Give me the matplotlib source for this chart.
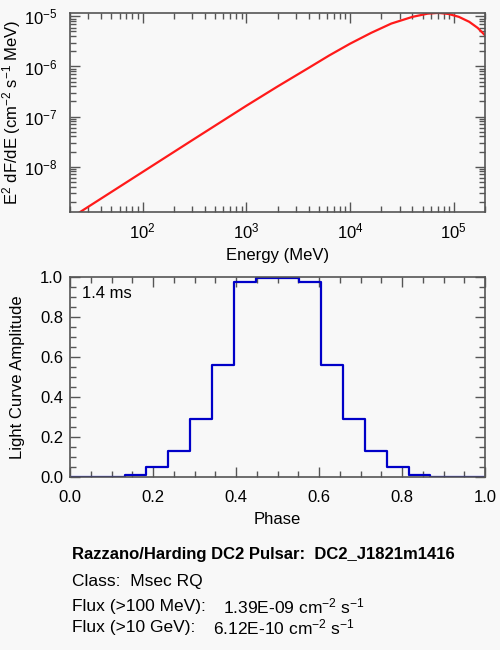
import numpy as np
import matplotlib
matplotlib.use("Agg")
import matplotlib.pyplot as plt
from matplotlib.ticker import LogLocator, MultipleLocator, NullFormatter

plt.rcParams['font.family'] = ['Liberation Sans', 'DejaVu Sans']
plt.rcParams['mathtext.fontset'] = 'custom'
plt.rcParams['mathtext.rm'] = 'Liberation Sans'
plt.rcParams['mathtext.it'] = 'Liberation Sans:italic'
plt.rcParams['mathtext.bf'] = 'Liberation Sans:bold'

# Spectrum
energy = [25, 100, 300, 1000, 2000, 4000, 6300, 10000, 16000, 25000, 40000,
          56000, 71000, 89000, 112000, 141000, 170000, 200000]  # MeV
e2dfde = [1.24e-9, 7.8e-9, 3.35e-8, 1.64e-7, 3.98e-7, 9.4e-7, 1.66e-6, 2.85e-6,
          4.7e-6, 7.2e-6, 9.8e-6, 1.135e-5, 1.175e-5, 1.12e-5, 9.8e-6, 7.8e-6,
          5.9e-6, 4.2e-6]

# Light curve, 20 bins over one rotation
phase = np.linspace(0.0, 1.0, 20)
amplitude = [0.0, 0.0, 0.002, 0.013, 0.053, 0.133, 0.29, 0.562, 0.978, 0.995,
             0.995, 0.978, 0.562, 0.29, 0.133, 0.053, 0.013, 0.002, 0.0, 0.0]

pulsar_name = "DC2_J1821m1416"
pulsar_class = "Msec RQ"
flux_100mev = "1.39E-09"
flux_10gev = "6.12E-10"
period_label = "1.4 ms"

bg = '#f8f8f8'
axcol = '#555555'
fs = 12

fig = plt.figure(figsize=(5, 6.5), dpi=100, facecolor=bg)

# --- spectrum panel ---
ax1 = fig.add_axes([0.14, 0.6738, 0.83, 0.3062], facecolor=bg)
ax1.plot(energy, e2dfde, color='#ff1a1a', lw=1.6)
ax1.set_xscale('log')
ax1.set_yscale('log')
ax1.set_xlim(20, 2e5)
ax1.set_ylim(1.24e-9, 1.17e-5)
ax1.xaxis.set_major_locator(LogLocator(base=10, numticks=10))
ax1.xaxis.set_minor_locator(LogLocator(base=10, subs=np.arange(2, 10), numticks=20))
ax1.yaxis.set_minor_locator(LogLocator(base=10, subs=np.arange(2, 10), numticks=20))
ax1.xaxis.set_minor_formatter(NullFormatter())
ax1.yaxis.set_minor_formatter(NullFormatter())
ax1.set_xlabel('Energy (MeV)', fontsize=fs)
ax1.set_ylabel(r'E$^{2}$ dF/dE (cm$^{-2}$ s$^{-1}$ MeV)', fontsize=fs)
ax1.xaxis.set_label_coords(0.5, -0.18)
ax1.yaxis.set_label_coords(-0.113, 0.5)

# --- light curve panel ---
ax2 = fig.add_axes([0.14, 0.2657, 0.83, 0.3077], facecolor=bg)
ax2.plot(phase, amplitude, drawstyle='steps-mid', color='#0000c8', lw=1.6)
ax2.set_xlim(0, 1)
ax2.set_ylim(0, 1)
ax2.xaxis.set_major_locator(MultipleLocator(0.2))
ax2.xaxis.set_minor_locator(MultipleLocator(0.05))
ax2.yaxis.set_major_locator(MultipleLocator(0.2))
ax2.yaxis.set_minor_locator(MultipleLocator(0.05))
ax2.xaxis.set_major_formatter(lambda v, p: f'{v:.1f}')
ax2.yaxis.set_major_formatter(lambda v, p: f'{v:.1f}')
ax2.set_xlabel('Phase', fontsize=fs)
ax2.set_ylabel('Light Curve Amplitude', fontsize=fs)
ax2.xaxis.set_label_coords(0.5, -0.175)
ax2.yaxis.set_label_coords(-0.108, 0.5)
ax2.text(0.028, 0.92, period_label, transform=ax2.transAxes, fontsize=fs,
         va='center', ha='left')

for ax in (ax1, ax2):
    for s in ax.spines.values():
        s.set_color(axcol)
        s.set_linewidth(1.2)
    ax.tick_params(which='both', direction='in', top=True, right=True,
                   color=axcol, labelsize=fs)
    ax.tick_params(which='major', length=7, width=1)
    ax.tick_params(which='minor', length=4, width=1)
ax1.tick_params(axis='x', pad=7)
ax1.tick_params(axis='y', pad=9)
ax2.tick_params(axis='x', pad=9)
ax2.tick_params(axis='y', pad=5)

# --- info text ---
x0 = 0.143
fig.text(x0, 1 - 555 / 650, f'Razzano/Harding DC2 Pulsar:  {pulsar_name}',
         fontsize=12, fontweight='bold', va='center')
fig.text(x0, 1 - 581.7 / 650, f'Class:  {pulsar_class}', fontsize=12.5, va='center')
fig.text(x0, 1 - 606.7 / 650, 'Flux (>100 MeV):', fontsize=12.5, va='center')
fig.text(0.446, 1 - 606.7 / 650, rf'{flux_100mev} cm$^{{-2}}$ s$^{{-1}}$',
         fontsize=12.5, va='center')
fig.text(x0, 1 - 627.3 / 650, 'Flux (>10 GeV):', fontsize=12.5, va='center')
fig.text(0.426, 1 - 627.3 / 650, rf'{flux_10gev} cm$^{{-2}}$ s$^{{-1}}$',
         fontsize=12.5, va='center')

fig.savefig('out.png', dpi=100, facecolor=bg)
